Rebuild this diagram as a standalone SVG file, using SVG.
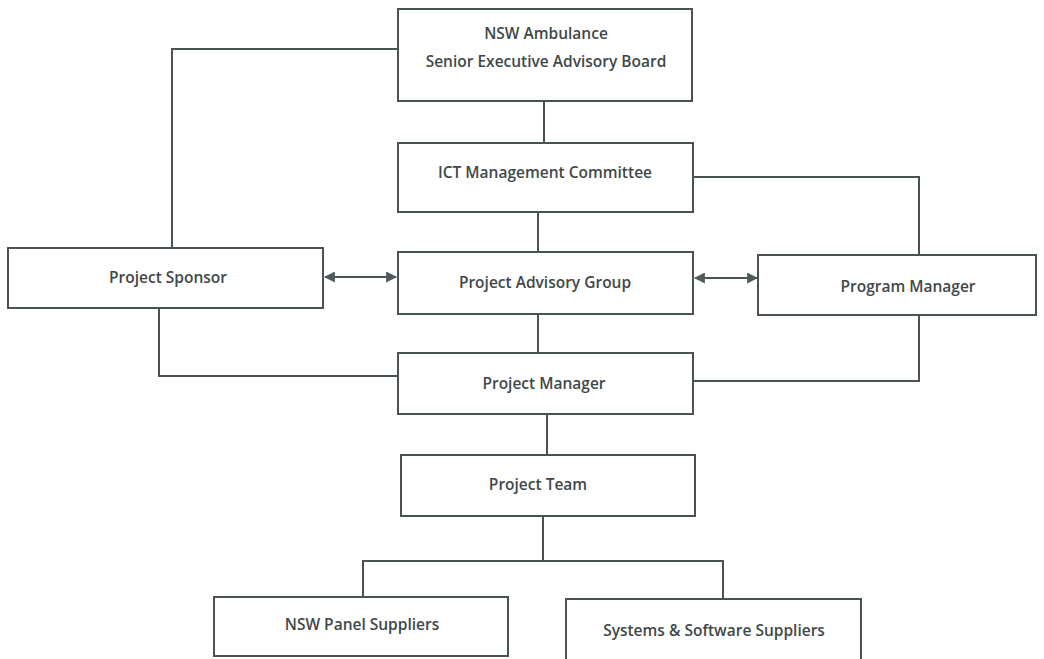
<svg xmlns="http://www.w3.org/2000/svg" width="1044" height="659" viewBox="0 0 1044 659">
<style>
.box{fill:#fff;stroke:#4a5353;stroke-width:2}
.ln{fill:none;stroke:#4a5353;stroke-width:2}
text{font-family:"Open Sans","Liberation Sans",sans-serif;font-size:15.5px;font-weight:600;fill:#3f4848;text-anchor:middle;dominant-baseline:central}
</style>
<defs>
<marker id="ah" viewBox="0 0 10 10" refX="9" refY="5" markerUnits="userSpaceOnUse" markerWidth="11" markerHeight="11" orient="auto-start-reverse">
<path d="M0,0 L10,5 L0,10 z" fill="#4f5a5a"/>
</marker>
</defs>
<rect width="1044" height="659" fill="#fff"/>
<g id="connectors">
<path class="ln" d="M544,102 V143"/>
<path class="ln" d="M398,49 H172 V248"/>
<path class="ln" d="M693,177 H919 V255"/>
<path class="ln" d="M538,212 V252"/>
<path class="ln" d="M538,314 V353"/>
<path class="ln" d="M159,308 V376 H398"/>
<path class="ln" d="M919,315 V381 H693"/>
<path class="ln" d="M547,414 V455"/>
<path class="ln" d="M543,516 V561"/>
<path class="ln" d="M363,597 V561 H723 V599"/>
<path class="ln" d="M325,277 H396" stroke-width="3" stroke="#4f5a5a" marker-start="url(#ah)" marker-end="url(#ah)"/>
<path class="ln" d="M695,278 H757" stroke-width="3" stroke="#4f5a5a" marker-start="url(#ah)" marker-end="url(#ah)"/>
</g>
<g id="board">
<rect class="box" x="398" y="9" width="294" height="92"/>
<text x="546" y="33">NSW Ambulance</text>
<text x="546" y="61">Senior Executive Advisory Board</text>
</g>
<g id="ict">
<rect class="box" x="398" y="143" width="295" height="69"/>
<text x="545" y="172">ICT Management Committee</text>
</g>
<g id="sponsor">
<rect class="box" x="8" y="248" width="315" height="60"/>
<text x="168" y="277">Project Sponsor</text>
</g>
<g id="pag">
<rect class="box" x="398" y="252" width="295" height="62"/>
<text x="545" y="282">Project Advisory Group</text>
</g>
<g id="progmgr">
<rect class="box" x="758" y="255" width="278" height="60"/>
<text x="908" y="286">Program Manager</text>
</g>
<g id="projmgr">
<rect class="box" x="398" y="353" width="295" height="61"/>
<text x="544" y="383">Project Manager</text>
</g>
<g id="team">
<rect class="box" x="401" y="455" width="294" height="61"/>
<text x="538" y="484">Project Team</text>
</g>
<g id="panel">
<rect class="box" x="214" y="597" width="294" height="59"/>
<text x="362" y="624">NSW Panel Suppliers</text>
</g>
<g id="systems">
<rect class="box" x="566" y="599" width="295" height="64"/>
<text x="714" y="630">Systems &amp; Software Suppliers</text>
</g>
</svg>
